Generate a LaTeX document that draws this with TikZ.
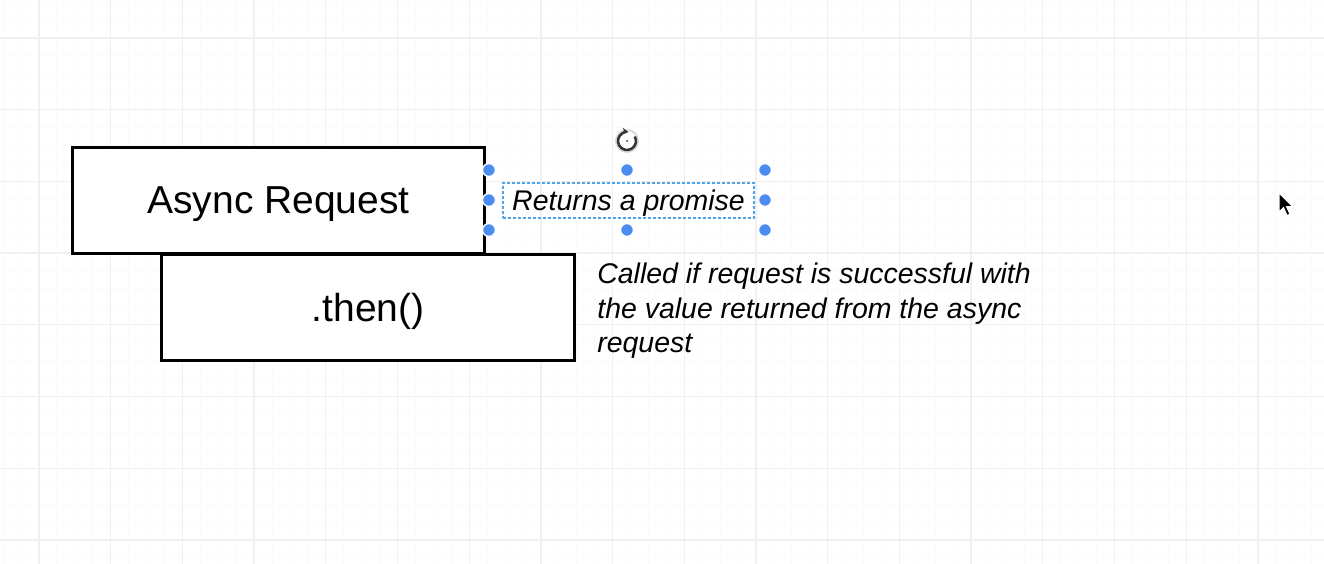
\documentclass[tikz,border=0pt]{standalone}
\usepackage{fontspec}
\setmainfont{Liberation Sans}
\usetikzlibrary{arrows.meta}

\definecolor{gridmajor}{HTML}{F0F0F0}
\definecolor{gridminor}{HTML}{FBFBFB}
\definecolor{handleblue}{HTML}{4A8CF0}
\definecolor{selectblue}{HTML}{4FA3E8}

\tikzset{
	block/.style={draw,fill=white,line width=0.06cm,minimum width=8.26cm,minimum height=2.14cm,inner sep=0pt,text depth=0pt,font=\fontsize{22.2}{26}\selectfont},
	note/.style={inner sep=0pt,font=\fontsize{16.2}{19.4}\selectfont\itshape},
	handle/.style={circle,fill=handleblue,draw=white,line width=0.8pt,minimum size=0.26cm,inner sep=0pt},
}

\begin{document}
\begin{tikzpicture}[x=0.02cm,y=-0.02cm]
	\useasboundingbox[fill=white] (0,0) rectangle (1324,564);
	%
	\foreach \j in {-2,...,71} \draw[gridminor,line width=0.02cm] (39+17.925*\j,0) -- ++(0,564);
	\foreach \j in {-2,...,29} \draw[gridminor,line width=0.02cm] (0,38+17.925*\j) -- ++(1324,0);
	\foreach \k in {0,...,17} \draw[gridmajor,line width=0.025cm] (39+71.7*\k,0) -- ++(0,564);
	\foreach \k in {0,...,7} \draw[gridmajor,line width=0.025cm] (0,38+71.7*\k) -- ++(1324,0);
	%
	\node[block] (async) at (278.5,200.5) {Async Request};
	\node[block,minimum width=8.28cm] (then) at (368,307.5) {.then()};
	%
	\node[note,draw=selectblue,line width=0.025cm,dash pattern=on 0.06cm off 0.04cm,text depth=0pt,minimum width=5.02cm,minimum height=0.7cm] (returns) at (628.5,200.5) {Returns a promise};
	\node[note,anchor=north west,align=left] (called) at (597,263) {Called if request is successful with\\the value returned from the async\\request};
	%
	\foreach \hx/\hy/\n in {489/170/nw,627/170/n,765/170/ne,489/200/w,765/200/e,489/230/sw,627/230/s,765/230/se}
		\node[handle] (h-\n) at (\hx,\hy) {};
	%
	\coordinate (rot) at (627,141);
	\fill[black!15] (rot) circle (0.24cm);
	\fill[white] (rot) circle (0.2cm);
	\fill[black!80] (rot) circle (0.02cm);
	\draw[black!80,line width=0.05cm,-{Stealth[length=0.13cm,width=0.13cm]}] ([shift={(30:0.18cm)}]rot) arc[start angle=30,end angle=-280,radius=0.18cm];
	%
	\coordinate (cursor) at (1279,193);
	\fill[black,draw=white,line width=0.02cm] (cursor) -- ++(0,19) -- ++(4.5,-4.5) -- ++(3.5,8) -- ++(3,-1.3) -- ++(-3.5,-7.7) -- ++(6,0) -- cycle;
\end{tikzpicture}
\end{document}
